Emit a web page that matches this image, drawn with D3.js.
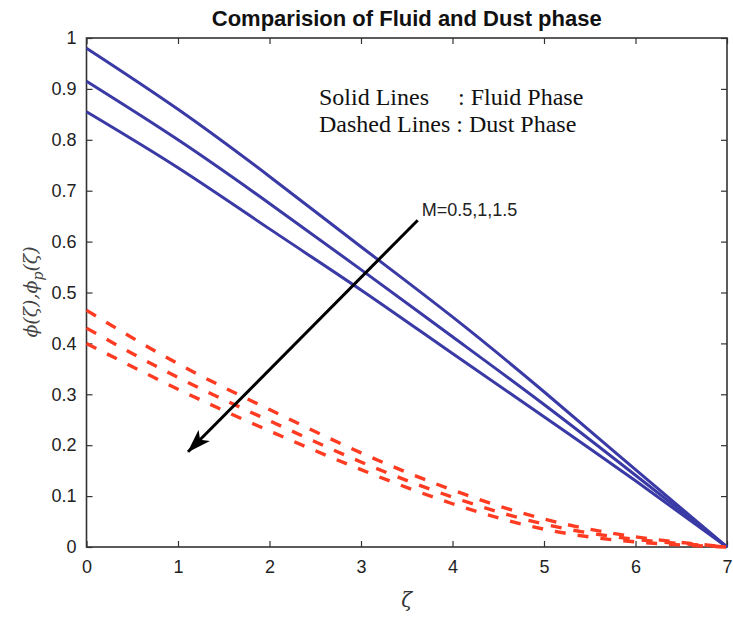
<!DOCTYPE html>
<html><head><meta charset="utf-8">
<script src="https://cdn.jsdelivr.net/npm/d3@7"></script>
<style>body{margin:0;background:#fff}svg{display:block}</style>
</head><body><svg id="c" width="733" height="618"></svg>
<script>
const xs = [0,1,2,3,4,5,6,7];
const fluidM05 = [0.98,0.86,0.728,0.59,0.452,0.305,0.152,0];
const fluidM1  = [0.915,0.80,0.675,0.545,0.413,0.28,0.141,0];
const fluidM15 = [0.855,0.745,0.625,0.505,0.38,0.256,0.13,0];
const dustM05 = [0.465,0.36,0.27,0.185,0.112,0.055,0.02,0];
const dustM1  = [0.43,0.333,0.248,0.167,0.098,0.045,0.015,0];
const dustM15 = [0.40,0.31,0.228,0.152,0.085,0.035,0.01,0];
const xTicks = [0,1,2,3,4,5,6,7];
const yTicks = [0,0.1,0.2,0.3,0.4,0.5,0.6,0.7,0.8,0.9,1];

const svg = d3.select("#c");
const L=86.5,R=727,T=38,B=547;
const x = d3.scaleLinear().domain([0,7]).range([L,R]);
const y = d3.scaleLinear().domain([0,1]).range([B,T]);
const fmt = d => d===0||d===1 ? String(d) : d3.format(".1f")(d);

const axColor="#333";
const g = svg.append("g");
const ax = (gen, tr) => {
  const a = g.append("g").attr("transform", tr).call(gen);
  a.select(".domain").remove();
  a.selectAll(".tick line").attr("stroke", axColor).attr("stroke-width",1.2);
  a.selectAll("text").attr("font-family","Liberation Sans, Arial, sans-serif").attr("font-size",18).attr("fill","#222");
  return a;
};
ax(d3.axisBottom(x).tickValues(xTicks).tickSize(-6).tickPadding(13).tickFormat(d=>d), `translate(0,${B})`);
ax(d3.axisLeft(y).tickValues(yTicks).tickSize(-6).tickPadding(10).tickFormat(fmt), `translate(${L},0)`);
ax(d3.axisTop(x).tickValues(xTicks).tickSize(-6).tickFormat(""), `translate(0,${T})`);
ax(d3.axisRight(y).tickValues(yTicks).tickSize(-6).tickFormat(""), `translate(${R},0)`);
g.append("rect").attr("x",L).attr("y",T).attr("width",R-L).attr("height",B-T)
  .attr("fill","none").attr("stroke",axColor).attr("stroke-width",1.6);

const line = d3.line().x((d,i)=>x(xs[i])).y(d=>y(d)).curve(d3.curveNatural);
const plot = svg.append("g");
[fluidM05,fluidM1,fluidM15].forEach(s=>{
  plot.append("path").attr("d",line(s)).attr("fill","none").attr("stroke","#3a3aa6").attr("stroke-width",3);
});
[dustM05,dustM1,dustM15].forEach(s=>{
  plot.append("path").attr("d",line(s)).attr("fill","none").attr("stroke","#ff3b22").attr("stroke-width",3.4)
    .attr("stroke-dasharray","11,12");
});

// arrow
const ar = {x1:3.62,y1:0.642,x2:1.11,y2:0.187};
svg.append("defs").append("marker").attr("id","ah").attr("viewBox","0 0 24 16").attr("refX",23).attr("refY",8)
  .attr("markerWidth",24).attr("markerHeight",16).attr("orient","auto").attr("markerUnits","userSpaceOnUse")
  .append("path").attr("d","M0,0 L24,8 L0,16 L6,8 Z").attr("fill","#000");
svg.append("line").attr("x1",x(ar.x1)).attr("y1",y(ar.y1)).attr("x2",x(ar.x2)).attr("y2",y(ar.y2))
  .attr("stroke","#000").attr("stroke-width",3).attr("marker-end","url(#ah)");
svg.append("text").attr("x",x(ar.x1)+4).attr("y",y(ar.y1)-4).text("M=0.5,1,1.5")
  .attr("font-family","Liberation Sans, Arial, sans-serif").attr("font-size",18).attr("fill","#222");

// annotation
const ann = svg.append("g").attr("font-family","Liberation Serif, Times New Roman, serif").attr("font-size",24).attr("fill","#111");
ann.append("text").attr("x",319).attr("y",105).text("Solid Lines");
ann.append("text").attr("x",458).attr("y",105).text(": Fluid Phase");
ann.append("text").attr("x",319).attr("y",132).text("Dashed Lines : Dust Phase");

// title
svg.append("text").attr("x",(L+R)/2).attr("y",26).attr("text-anchor","middle")
  .attr("font-family","Liberation Sans, Arial, sans-serif").attr("font-weight","bold").attr("font-size",22)
  .attr("fill","#111").text("Comparision of Fluid and Dust phase");

// axis labels
svg.append("text").attr("x",(L+R)/2).attr("y",607).attr("text-anchor","middle")
  .attr("font-family","DejaVu Serif, serif").attr("font-style","italic").attr("font-size",20).attr("fill","#333").text("ζ");
const yl = svg.append("text").attr("transform","translate(37,292) rotate(-90)").attr("text-anchor","middle")
  .attr("font-family","DejaVu Serif, serif").attr("font-style","italic").attr("font-size",19).attr("fill","#444");
yl.append("tspan").text("ϕ(ζ),ϕ");
yl.append("tspan").attr("dy",6).attr("font-size",14).text("p");
yl.append("tspan").attr("dy",-6).text("(ζ)");
</script></body></html>
